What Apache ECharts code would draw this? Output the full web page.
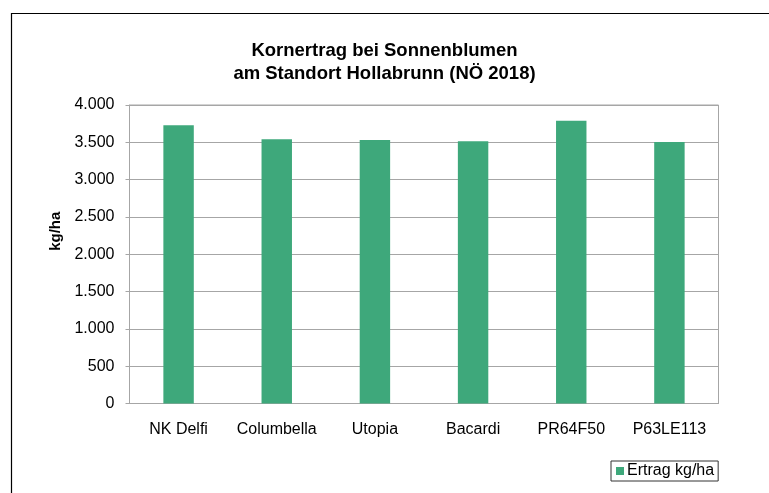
<!DOCTYPE html>
<html>
<head>
<meta charset="utf-8">
<script src="https://cdn.jsdelivr.net/npm/echarts@6/dist/echarts.min.js"></script>
<style>
  html, body { margin: 0; padding: 0; background: #fff; }
  #chart { width: 769px; height: 493px; }
</style>
</head>
<body>
<div id="chart"></div>
<script>
// Sorten und Ertrag (kg/ha)
const sorten = ['NK Delfi', 'Columbella', 'Utopia', 'Bacardi', 'PR64F50', 'P63LE113']
const ertrag = [3727, 3540, 3530, 3513, 3790, 3503]
const seriesName = 'Ertrag kg/ha'
const titleText = 'Kornertrag bei Sonnenblumen\nam Standort Hollabrunn (NÖ 2018)'

const fontFamily = '"Liberation Sans", Arial, sans-serif'

let chart = echarts.init(document.getElementById('chart'))

let option = {
    backgroundColor: '#fff',
    animation: false,
    textStyle: { fontFamily: fontFamily },
    title: {
        text: titleText,
        left: 'center',
        top: 34,
        textStyle: {
            fontFamily: fontFamily,
            fontSize: 18.5,
            fontWeight: 'bold',
            color: '#000',
            lineHeight: 23.5
        }
    },
    // Rahmen um das Diagramm
    graphic: [{
        type: 'rect',
        shape: { x: 11.5, y: 13.5, width: 900, height: 600 },
        style: { fill: 'none', stroke: '#000', lineWidth: 1.2 },
        silent: true
    }],
    legend: {
        data: [seriesName],
        left: 611,
        top: 461,
        orient: 'horizontal',
        itemWidth: 8,
        itemHeight: 8,
        padding: [2, 4, 2, 5],
        borderColor: '#333',
        borderWidth: 1,
        borderRadius: 0,
        icon: 'rect',
        textStyle: { fontSize: 16, color: '#000', padding: [0, 0, 0, -2] }
    },
    grid: {
        left: 129.5,
        right: 50.5,
        top: 105,
        bottom: 89.5,
        show: true,
        borderColor: '#a6a6a6',
        borderWidth: 1,
        containLabel: false
    },
    xAxis: {
        type: 'category',
        data: sorten,
        axisLine: { lineStyle: { color: '#a6a6a6', width: 1 } },
        axisTick: { show: false },
        axisLabel: { fontSize: 16, color: '#000', margin: 18, interval: 0, hideOverlap: false }
    },
    yAxis: {
        type: 'value',
        min: 0,
        max: 4000,
        interval: 500,
        name: 'kg/ha',
        nameLocation: 'middle',
        nameGap: 54,
        nameRotate: 90,
        nameTextStyle: { fontSize: 15, fontWeight: 'bold', color: '#000', padding: [0, 0, 0, 46] },
        axisLine: { show: true, lineStyle: { color: '#a6a6a6', width: 1 } },
        axisTick: { show: true, length: 4, lineStyle: { color: '#a6a6a6' } },
        splitLine: { lineStyle: { color: '#a6a6a6', width: 1 } },
        axisLabel: {
            fontSize: 16,
            color: '#000',
            margin: 15,
            formatter: v => v.toLocaleString('de-DE')
        }
    },
    series: [{
        name: seriesName,
        type: 'bar',
        data: ertrag,
        barWidth: '31%',
        itemStyle: { color: '#3ea87b' }
    }]
}

chart.setOption(option)
</script>
</body>
</html>
